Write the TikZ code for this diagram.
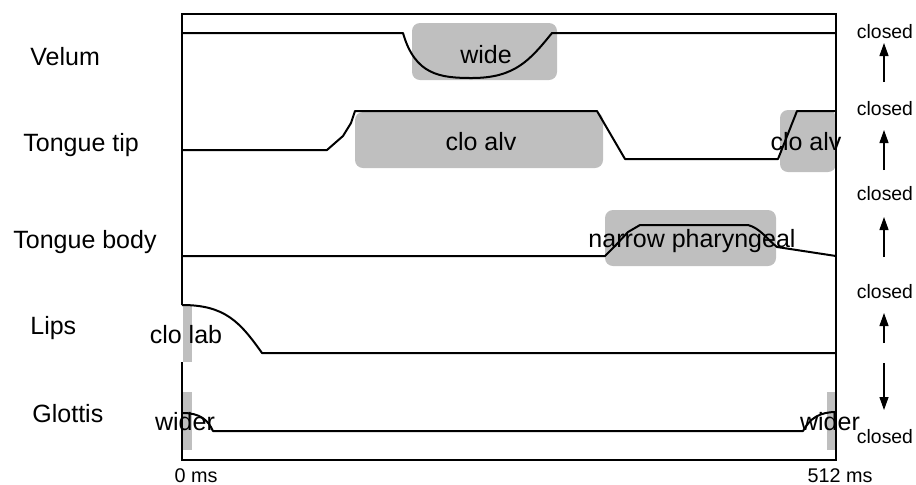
\documentclass[tikz,border=0pt]{standalone}
\usepackage{fontspec}
\setmainfont{Liberation Sans}
\usetikzlibrary{arrows.meta}

\begin{document}
\begin{tikzpicture}[x=0.5pt, y=-0.5pt,
    tier/.style={font=\fontsize{12.5}{15}\selectfont, anchor=base west, inner sep=0pt},
    gest/.style={font=\fontsize{12.5}{15}\selectfont, anchor=base, inner sep=0pt},
    state/.style={font=\fontsize{9.7}{11}\selectfont, anchor=base, inner sep=0pt},
    shade/.style={fill=gray!50, rounded corners=4pt},
    band/.style={fill=gray!50},
    traj/.style={line width=1pt, line join=round},
    frm/.style={line width=1pt},
    arr/.style={-{Triangle[length=6.5pt, width=4.5pt]}, line width=0.6pt},
]
\useasboundingbox (0,0) rectangle (916,484);

% gesture activation boxes
\fill[shade] (412,23) rectangle (557,80);
\fill[shade] (355,112) rectangle (603,168);
\fill[shade] (780,110) rectangle (836,172);
\fill[shade] (605,210) rectangle (776,266);
\fill[band] (183,305) rectangle (192,362);
\fill[band] (183,392) rectangle (192,450);
\fill[band] (827,392) rectangle (836,450);

% frame
\draw[frm] (182,305) -- (182,14) -- (836,14) -- (836,460) -- (182,460) -- (182,362);

% Velum
\draw[traj] (182,33) -- (403,33) .. controls (415,75) and (440,78) .. (472,78)
    .. controls (515,78) and (530,60) .. (552,33) -- (836,33);
% Tongue tip
\draw[traj] (182,150) -- (327,150) -- (343,136) -- (351,123) -- (355,111) -- (597,111)
    -- (625,159) -- (778,159) -- (797,111) -- (836,111);
% Tongue body
\draw[traj] (182,256) -- (605,256) -- (615,246) -- (628,232) -- (640,225) -- (748,225)
    .. controls (760,228) and (768,240) .. (777,247) -- (836,256);
% Lips
\draw[traj] (182,305) .. controls (225,305) and (240,322) .. (262,353) -- (836,353);
% Glottis
\draw[traj] (183,413) .. controls (200,413) and (208,420) .. (213,431) -- (803,431)
    .. controls (810,418) and (820,412) .. (836,412);

% tier names
\node[tier] (velum) at (30,65) {Velum};
\node[tier] (ttip) at (23,151) {Tongue tip};
\node[tier] (tbody) at (13,248) {Tongue body};
\node[tier] (lips) at (30,334) {Lips};
\node[tier] (glottis) at (32,422) {Glottis};

% gesture labels
\node[gest] (wide) at (486,63) {wide};
\node[gest] (cloalv) at (481,150) {clo alv};
\node[gest] (cloalvr) at (806,150) {clo alv};
\node[gest] (narrow) at (692,247) {narrow pharyngeal};
\node[gest] (clolab) at (186,343) {clo lab};
\node[gest] (widerl) at (185,430) {wider};
\node[gest] (widerr) at (830,430) {wider};

% closed direction
\node[state] (cl1) at (885,38) {closed};
\node[state] (cl2) at (885,115) {closed};
\node[state] (cl3) at (885,200) {closed};
\node[state] (cl4) at (885,298) {closed};
\node[state] (cl5) at (885,443) {closed};

\coordinate (a1) at (884,82);  \coordinate (b1) at (884,43);
\coordinate (a2) at (884,170); \coordinate (b2) at (884,130);
\coordinate (a3) at (884,257); \coordinate (b3) at (884,217);
\coordinate (a4) at (884,343); \coordinate (b4) at (884,313);
\coordinate (a5) at (884,363); \coordinate (b5) at (884,410);
\draw[arr] (a1) -- (b1);
\draw[arr] (a2) -- (b2);
\draw[arr] (a3) -- (b3);
\draw[arr] (a4) -- (b4);
\draw[arr] (a5) -- (b5);

% time axis
\node[state, font=\fontsize{9.9}{11}\selectfont] (t0) at (196,482) {0 ms};
\node[state, font=\fontsize{9.9}{11}\selectfont] (t512) at (840,482) {512 ms};

\end{tikzpicture}
\end{document}
